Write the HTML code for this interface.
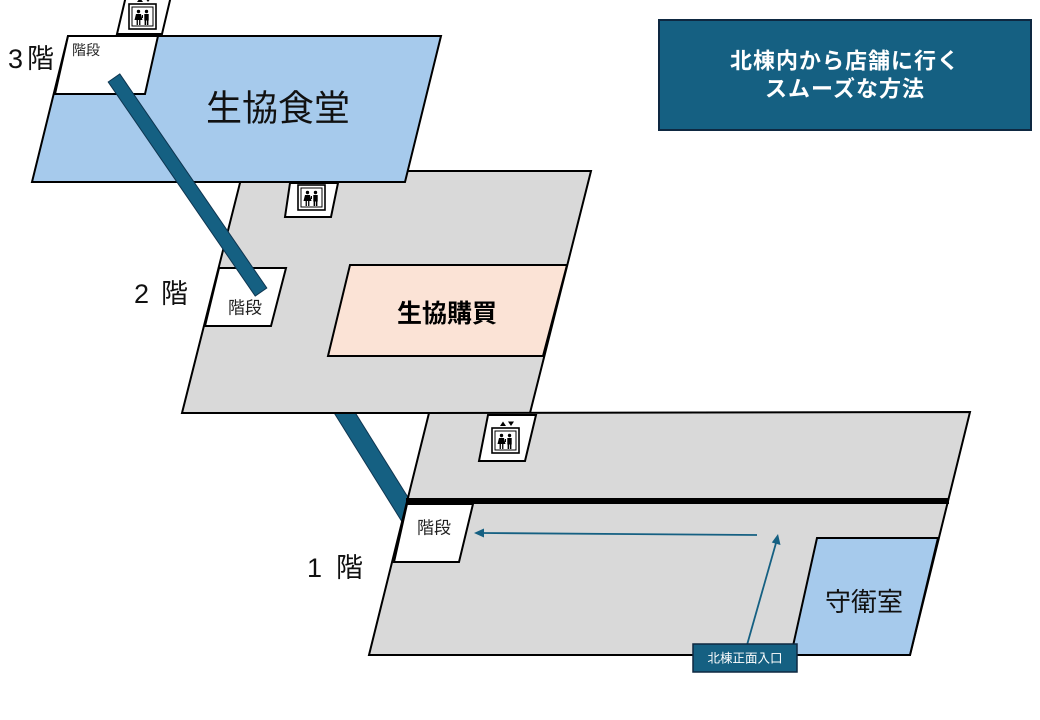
<!DOCTYPE html>
<html><head><meta charset="utf-8"><style>
html,body{margin:0;padding:0;background:#fff;width:1040px;height:720px;overflow:hidden}
svg{display:block}
text{font-family:"Liberation Sans","Noto Sans CJK JP",sans-serif}
</style></head><body>
<svg width="1040" height="720" viewBox="0 0 1040 720" xmlns="http://www.w3.org/2000/svg">
<defs>
<g id="ev">
  <rect x="0" y="0" width="27" height="25" fill="#fff" stroke="#000" stroke-width="1.6"/>
  <rect x="3" y="3" width="21" height="19" fill="#fff" stroke="#000" stroke-width="1"/>
  <circle cx="9.5" cy="7.5" r="1.7" fill="#000"/>
  <path d="M7,10 L12,10 L13.5,16 L5.5,16 Z" fill="#000"/>
  <rect x="7.6" y="16" width="1.3" height="5" fill="#000"/>
  <rect x="10.1" y="16" width="1.3" height="5" fill="#000"/>
  <circle cx="17.5" cy="7.5" r="1.7" fill="#000"/>
  <rect x="15.3" y="10" width="4.4" height="6.5" fill="#000"/>
  <rect x="15.6" y="16" width="1.5" height="5" fill="#000"/>
  <rect x="17.9" y="16" width="1.5" height="5" fill="#000"/>
  <line x1="13.5" y1="11" x2="13.5" y2="14" stroke="#000" stroke-width="1"/>
</g>
</defs>

<!-- connector 2F -> 1F (under floors) -->
<line x1="328" y1="386" x2="414" y2="524" stroke="#0E3550" stroke-width="19"/>
<line x1="328" y1="386" x2="414" y2="524" stroke="#156082" stroke-width="17"/>

<!-- 2F floor -->
<polygon points="243,171 591,171 530,413 182,413" fill="#D9D9D9" stroke="#000" stroke-width="2"/>
<polygon points="290,183 338,183 331,217 285,217" fill="#fff" stroke="#000" stroke-width="2"/>
<use href="#ev" x="298" y="185"/>
<polygon points="219,268 286,268 271,326 205,326" fill="#fff" stroke="#000" stroke-width="2"/>
<text x="245" y="308" font-size="17" text-anchor="middle" dominant-baseline="central" fill="#222">階段</text>
<polygon points="350,265 567,265 543,356 328,356" fill="#FBE3D6" stroke="#000" stroke-width="2"/>
<text x="447" y="314" font-size="25" font-weight="bold" text-anchor="middle" dominant-baseline="central" fill="#000">生協購買</text>

<!-- 3F elevator (partial at top) -->
<polygon points="126,-4 171,-4 162,34 117,34" fill="#fff" stroke="#000" stroke-width="2"/>
<use href="#ev" x="129" y="4"/>
<path d="M137,2 L140,-2 L143,2 Z M145,-2 L151,-2 L148,2 Z" fill="#000"/>

<!-- 3F floor -->
<polygon points="68,36 441,36 405,182 32,182" fill="#A6CAEC" stroke="#000" stroke-width="2"/>
<polygon points="68,36 158,36 145,94 55,94" fill="#fff" stroke="#000" stroke-width="2"/>
<text x="72" y="50" font-size="14" dominant-baseline="central" fill="#222">階段</text>
<text x="278" y="108" font-size="36" text-anchor="middle" dominant-baseline="central" fill="#111">生協食堂</text>

<!-- connector 3F -> 2F (on top) -->
<polygon points="108.2,82 119.8,74 266.8,288 255.2,296" fill="#156082" stroke="#0E3550" stroke-width="1"/>

<!-- 1F floor -->
<polygon points="429,413 970,412 910,655 369,655" fill="#D9D9D9" stroke="#000" stroke-width="2"/>
<line x1="406" y1="501" x2="949" y2="501" stroke="#000" stroke-width="6"/>
<polygon points="488,415 536,415 525,461 479,461" fill="#fff" stroke="#000" stroke-width="2"/>
<use href="#ev" x="492" y="428"/>
<path d="M500,426 L503,421.5 L506,426 Z M508,421.5 L514,421.5 L511,426 Z" fill="#000"/>
<polygon points="407,504 473,504 459,562 394,562" fill="#fff" stroke="#000" stroke-width="2"/>
<text x="434" y="528" font-size="17" text-anchor="middle" dominant-baseline="central" fill="#222">階段</text>
<polygon points="817,538 938,538 910,655 791,655" fill="#A6CAEC" stroke="#000" stroke-width="2"/>
<text x="864" y="602" font-size="26" text-anchor="middle" dominant-baseline="central" fill="#111">守衛室</text>

<!-- arrows -->
<line x1="757" y1="535" x2="482" y2="533" stroke="#156082" stroke-width="1.8"/>
<polygon points="474,533 484,528.5 484,537.5" fill="#156082"/>
<line x1="747" y1="645" x2="776" y2="543" stroke="#156082" stroke-width="1.8"/>
<polygon points="778,534 780.5,545 771.8,542.5" fill="#156082"/>

<!-- entrance label -->
<rect x="693" y="644" width="104" height="28" fill="#156082" stroke="#0E2841" stroke-width="1.5"/>
<text x="745" y="658.5" font-size="12.5" text-anchor="middle" dominant-baseline="central" fill="#fff">北棟正面入口</text>

<!-- floor labels -->
<text x="8" y="68" font-size="27" fill="#111">3</text>
<text x="27" y="68" font-size="27" fill="#111">階</text>
<text x="134" y="303" font-size="27" fill="#111">2</text>
<text x="161" y="303" font-size="27" fill="#111">階</text>
<text x="307" y="577" font-size="27" fill="#111">1</text>
<text x="336" y="577" font-size="27" fill="#111">階</text>

<!-- title -->
<rect x="659" y="20" width="372" height="110" fill="#156082" stroke="#0E2841" stroke-width="2"/>
<text x="845" y="61" font-size="22" font-weight="bold" text-anchor="middle" dominant-baseline="central" fill="#fff" letter-spacing="1">北棟内から店舗に行く</text>
<text x="845" y="89" font-size="22" font-weight="bold" text-anchor="middle" dominant-baseline="central" fill="#fff" letter-spacing="1">スムーズな方法</text>
</svg>
</body></html>
